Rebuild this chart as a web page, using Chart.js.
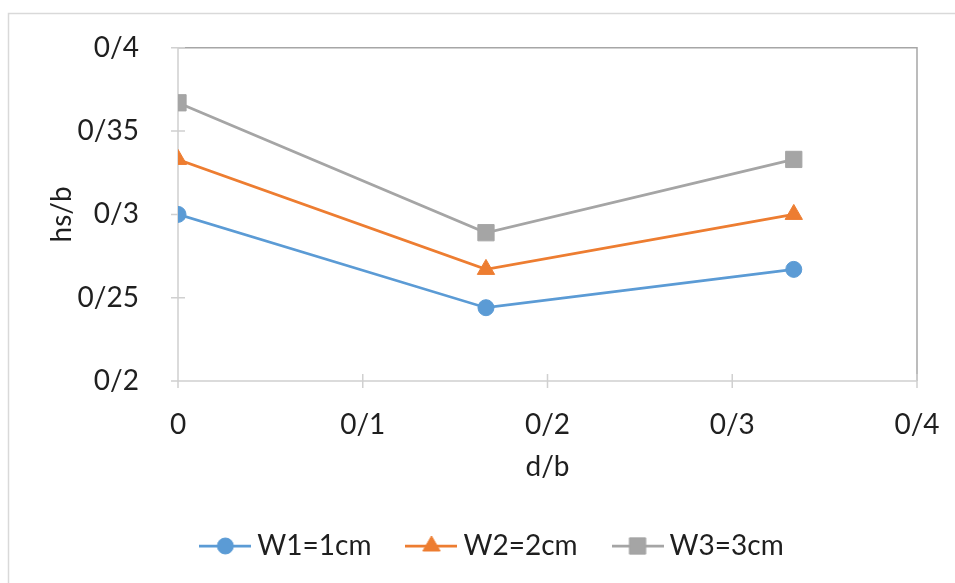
<!DOCTYPE html>
<html>
<head>
<meta charset="utf-8">
<script src="https://cdn.jsdelivr.net/npm/chart.js@4.4.1/dist/chart.umd.min.js"></script>
<style>
  html, body { margin: 0; padding: 0; background: #fff; }
  canvas { display: block; }
</style>
</head>
<body>
<canvas id="chart" width="955" height="583"></canvas>
<script>
// d/b positions of the three measurements
const dRatio = [0, 0.1667, 0.3333];
// hs/b for each width
const w1 = [0.300, 0.244, 0.267];
const w2 = [0.333, 0.267, 0.300];
const w3 = [0.367, 0.289, 0.333];
const seriesNames = ['W1=1cm', 'W2=2cm', 'W3=3cm'];
const xTicks = [0, 0.1, 0.2, 0.3, 0.4];
const yTicks = [0.2, 0.25, 0.3, 0.35, 0.4];

const colors = ['#5b9bd5', '#ed7d31', '#a5a5a5'];
const styles = ['circle', 'triangle', 'rect'];
const radii = [8, 10, 11.5];

// decimals written with a slash: 0.35 -> 0/35
const fmt = v => String(+Number(v).toFixed(2)).replace('.', '/');

Chart.defaults.font.family = 'Lato, "Open Sans", sans-serif';
Chart.defaults.font.size = 28;
Chart.defaults.color = '#1f1f1f';

function points(ys) {
  return dRatio.map((x, i) => ({ x, y: ys[i] }));
}

// legend swatch: a short line with the series marker in the middle
function legendIcon(i) {
  const c = document.createElement('canvas');
  c.width = 52; c.height = 26;
  const g = c.getContext('2d');
  g.strokeStyle = colors[i];
  g.fillStyle = colors[i];
  g.lineWidth = 2.75;
  g.beginPath(); g.moveTo(0, 13); g.lineTo(52, 13); g.stroke();
  g.lineWidth = 1;
  Chart.helpers.drawPoint(g, { pointStyle: styles[i], radius: radii[i], borderWidth: 1, rotation: 0 }, 26, 13);
  return c;
}
const icons = [0, 1, 2].map(legendIcon);

const frame = {
  id: 'frame',
  beforeDraw(chart) {
    const { ctx } = chart;
    ctx.save();
    ctx.fillStyle = '#fff';
    ctx.fillRect(0, 0, chart.width, chart.height);
    ctx.strokeStyle = '#d9d9d9';
    ctx.lineWidth = 1.5;
    ctx.strokeRect(8.5, 13.5, chart.width + 40, chart.height + 40);
    ctx.restore();
  },
  afterLayout(chart) {
    chart.legend.left += 37;
    chart.legend.right += 37;
  },
  beforeDatasetsDraw(chart) {
    const { ctx, chartArea: a, scales: { x, y } } = chart;
    ctx.save();
    ctx.lineWidth = 1.5;
    // top and right edge of the plot area
    ctx.strokeStyle = '#a6a6a6';
    ctx.beginPath();
    ctx.moveTo(a.left, a.top); ctx.lineTo(a.right, a.top); ctx.lineTo(a.right, a.bottom);
    ctx.stroke();
    // axis lines and tick marks crossing them
    ctx.strokeStyle = '#d0d0d0';
    ctx.beginPath();
    ctx.moveTo(a.left, a.top); ctx.lineTo(a.left, a.bottom); ctx.lineTo(a.right, a.bottom);
    x.ticks.forEach((t, i) => {
      const px = x.getPixelForTick(i);
      ctx.moveTo(px, a.bottom - 7); ctx.lineTo(px, a.bottom + 7);
    });
    y.ticks.forEach((t, i) => {
      const py = y.getPixelForTick(i);
      ctx.moveTo(a.left - 7, py); ctx.lineTo(a.left + 7, py);
    });
    ctx.stroke();
    ctx.restore();
  }
};

const datasets = [w1, w2, w3].map((ys, i) => ({
  label: seriesNames[i],
  data: points(ys),
  borderColor: colors[i],
  backgroundColor: colors[i],
  borderWidth: 2.75,
  pointStyle: styles[i],
  pointRadius: radii[i],
  pointBorderWidth: 1,
  pointBackgroundColor: colors[i],
  pointBorderColor: colors[i],
  tension: 0
}));

new Chart(document.getElementById('chart'), {
  type: 'line',
  data: { datasets },
  plugins: [frame],
  options: {
    responsive: false,
    animation: false,
    layout: { padding: { top: 45, right: 38, bottom: 13, left: 0 } },
    scales: {
      x: {
        type: 'linear',
        min: xTicks[0],
        max: xTicks[xTicks.length - 1],
        afterBuildTicks: s => { s.ticks = xTicks.map(v => ({ value: v })); },
        afterFit: s => { s.height = 109; s.paddingLeft = 0; s.paddingRight = 0; },
        grid: { display: false },
        border: { display: false },
        ticks: { padding: 19, callback: fmt, maxRotation: 0 },
        title: { display: true, text: 'd/b', padding: { top: 0, bottom: 6 } }
      },
      y: {
        type: 'linear',
        min: yTicks[0],
        max: yTicks[yTicks.length - 1],
        afterBuildTicks: s => { s.ticks = yTicks.map(v => ({ value: v })); },
        afterFit: s => { s.width = 178; },
        grid: { display: false },
        border: { display: false },
        ticks: { padding: 31, callback: fmt },
        title: { display: true, text: 'hs/b', padding: { top: 45, bottom: 0 } }
      }
    },
    plugins: {
      tooltip: { enabled: false },
      legend: {
        position: 'bottom',
        labels: {
          usePointStyle: true,
          pointStyleWidth: 36,
          padding: 42,
          color: '#1f1f1f',
          generateLabels(chart) {
            const items = Chart.defaults.plugins.legend.labels.generateLabels(chart);
            items.forEach((it, i) => { it.pointStyle = icons[i]; });
            return items;
          }
        }
      }
    }
  }
});
</script>
</body>
</html>
